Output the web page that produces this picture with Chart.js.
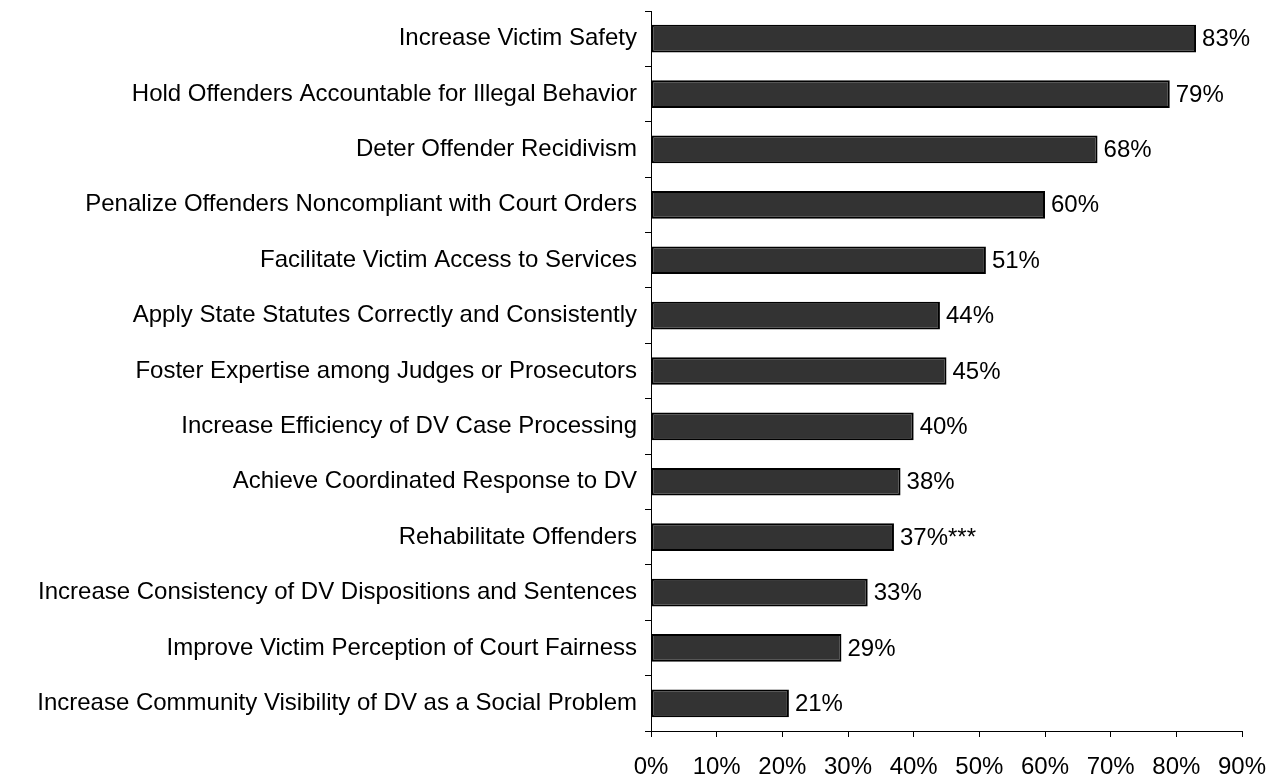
<!DOCTYPE html>
<html>
<head>
<meta charset="utf-8">
<script src="https://cdn.jsdelivr.net/npm/chart.js@4/dist/chart.umd.min.js"></script>
<style>
  html, body { margin: 0; padding: 0; background: #fff; }
  #wrap { width: 1277px; height: 780px; }
</style>
</head>
<body>
<div id="wrap"><canvas id="goalChart" width="1277" height="780"></canvas></div>
<script>
var categories = [
    "Increase Victim Safety",
    "Hold Offenders Accountable for Illegal Behavior",
    "Deter Offender Recidivism",
    "Penalize Offenders Noncompliant with Court Orders",
    "Facilitate Victim Access to Services",
    "Apply State Statutes Correctly and Consistently",
    "Foster Expertise among Judges or Prosecutors",
    "Increase Efficiency of DV Case Processing",
    "Achieve Coordinated Response to DV",
    "Rehabilitate Offenders",
    "Increase Consistency of DV Dispositions and Sentences",
    "Improve Victim Perception of Court Fairness",
    "Increase Community Visibility of DV as a Social Problem"
];
var values = [83, 79, 68, 60, 51, 44, 45, 40, 38, 37, 33, 29, 21];
var valueNotes = ["", "", "", "", "", "", "", "", "", "***", "", "", ""];
var xTicks = [0, 10, 20, 30, 40, 50, 60, 70, 80, 90];

var FONT = "'Liberation Sans', Arial, sans-serif";

var valueLabels = {
    id: 'valueLabels',
    afterDatasetsDraw: function(chart) {
        var ctx = chart.ctx;
        var meta = chart.getDatasetMeta(0);
        ctx.save();
        ctx.font = "24px " + FONT;
        ctx.fillStyle = "#000";
        ctx.textAlign = "left";
        ctx.textBaseline = "middle";
        meta.data.forEach(function(bar, i) {
            ctx.fillText(values[i] + "%" + valueNotes[i], bar.x + 6, bar.y + 1);
        });
        ctx.restore();
    }
};

// keep chart area where the reference has it: no extra padding from tick labels
function noPad(axis) {
    axis.paddingTop = 0;
    axis.paddingBottom = 0;
    axis.paddingLeft = 0;
    axis.paddingRight = 0;
}

var ctx = document.getElementById("goalChart").getContext("2d");
var chart = new Chart(ctx, {
    type: 'bar',
    data: {
        labels: categories,
        datasets: [{
            data: values,
            backgroundColor: "#333333",
            borderColor: "#000000",
            borderWidth: 2,
            borderSkipped: false,
            barPercentage: 0.5,
            categoryPercentage: 1.0
        }]
    },
    options: {
        indexAxis: 'y',
        responsive: false,
        animation: false,
        layout: { padding: { top: 11, right: 35, left: 0, bottom: 0 } },
        plugins: {
            legend: { display: false },
            tooltip: { enabled: false }
        },
        scales: {
            x: {
                min: 0,
                max: 90,
                afterBuildTicks: function(axis) {
                    axis.ticks = xTicks.map(function(v) { return { value: v }; });
                },
                afterFit: function(axis) { axis.height = 49; noPad(axis); },
                grid: { drawOnChartArea: false, tickLength: 6, color: "#000" },
                border: { display: true, color: "#000", width: 1 },
                ticks: {
                    color: "#000",
                    font: { family: FONT, size: 24 },
                    padding: 16,
                    maxRotation: 0,
                    callback: function(v) { return v + "%"; }
                }
            },
            y: {
                afterFit: function(axis) { axis.width = 651; noPad(axis); },
                grid: { drawOnChartArea: false, tickLength: 6, color: "#000", offset: true },
                border: { display: true, color: "#000", width: 1 },
                ticks: {
                    color: "#000",
                    font: { family: FONT, size: 24 },
                    padding: 8
                }
            }
        }
    },
    plugins: [valueLabels]
});
</script>
</body>
</html>
